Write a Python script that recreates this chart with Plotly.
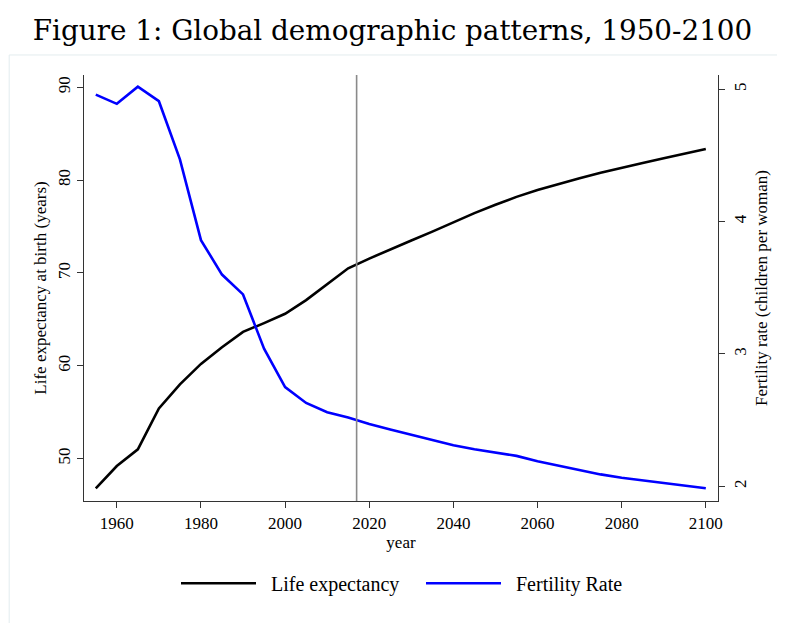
import plotly.graph_objects as go

years = [1955, 1960, 1965, 1970, 1975, 1980, 1985, 1990, 1995, 2000,
         2005, 2010, 2015, 2020, 2025, 2030, 2035, 2040, 2045, 2050,
         2055, 2060, 2065, 2070, 2075, 2080, 2085, 2090, 2095, 2100]
life_expectancy = [46.8, 49.2, 51.0, 55.4, 58.0, 60.2, 62.0, 63.65, 64.6, 65.6,
                   67.07, 68.8, 70.5, 71.55, 72.55, 73.5, 74.45, 75.45, 76.45, 77.35,
                   78.2, 78.95, 79.6, 80.2, 80.8, 81.35, 81.85, 82.35, 82.85, 83.35]
fertility_rate = [4.96, 4.89, 5.02, 4.91, 4.47, 3.86, 3.60, 3.45, 3.04, 2.75,
                  2.63, 2.56, 2.52, 2.47, 2.43, 2.39, 2.35, 2.31, 2.28, 2.255,
                  2.23, 2.19, 2.155, 2.12, 2.09, 2.065, 2.045, 2.025, 2.005, 1.985]
marker_year = 2017
x_ticks = [1960, 1980, 2000, 2020, 2040, 2060, 2080, 2100]
left_ticks = [50, 60, 70, 80, 90]
right_ticks = [2, 3, 4, 5]

SERIF = "Liberation Serif, Times New Roman, serif"
NBSP = "\u00a0"

fig = go.Figure()
fig.add_trace(go.Scatter(x=years, y=life_expectancy, mode="lines",
                         name=NBSP * 2 + "Life expectancy",
                         line=dict(color="black", width=2.6)))
fig.add_trace(go.Scatter(x=years, y=fertility_rate, mode="lines",
                         name=NBSP * 2 + "Fertility Rate",
                         line=dict(color="#0000ff", width=2.6), yaxis="y2"))

fig.add_shape(type="line", xref="x", yref="paper", x0=marker_year, x1=marker_year, y0=0, y1=1,
              line=dict(color="#8a8a8a", width=1.6))
# faint graph-region border
fig.add_shape(type="rect", xref="paper", yref="paper", x0=-0.118, x1=1.2, y0=-0.4, y1=1.047,
              line=dict(color="#e3ecef", width=1), layer="below")

axis_common = dict(showline=True, linecolor="#333333", linewidth=1.2, ticks="outside",
                   ticklen=6, tickcolor="#333333", tickwidth=1.2, showgrid=False, zeroline=False,
                   tickfont=dict(family=SERIF, size=17, color="black"))

fig.update_layout(
    width=777, height=615,
    margin=dict(l=76, r=67, t=67, b=122),
    paper_bgcolor="white", plot_bgcolor="white",
    title=dict(text="Figure 1: Global demographic patterns, 1950-2100",
               font=dict(family="DejaVu Serif, serif", size=27.8, color="black"),
               x=384.5 / 777, xanchor="center", xref="container",
               y=1 - 22 / 615, yanchor="middle", yref="container"),
    xaxis=dict(range=[1952.2, 2102.9], tickvals=x_ticks,
               title=dict(text="year", font=dict(family=SERIF, size=17, color="black"), standoff=4),
               **axis_common),
    yaxis=dict(range=[45.43, 91.33], tickvals=left_ticks, tickangle=-90,
               title=dict(text="Life expectancy at birth (years)",
                          font=dict(family=SERIF, size=17, color="black"), standoff=4),
               **axis_common),
    yaxis2=dict(range=[1.889, 5.108], tickvals=right_ticks, tickangle=-90, overlaying="y",
                side="right",
                title=dict(text="Fertility rate (children per woman)",
                           font=dict(family=SERIF, size=17, color="black"), standoff=6),
                **axis_common),
    legend=dict(orientation="h", x=0.5 + 20 / 634, xanchor="center", y=-0.193, yanchor="middle",
                font=dict(family=SERIF, size=20, color="black"), itemwidth=75,
                entrywidth=155, entrywidthmode="pixels",
                bgcolor="rgba(0,0,0,0)"),
    showlegend=True,
)

fig.write_html("out.html")
